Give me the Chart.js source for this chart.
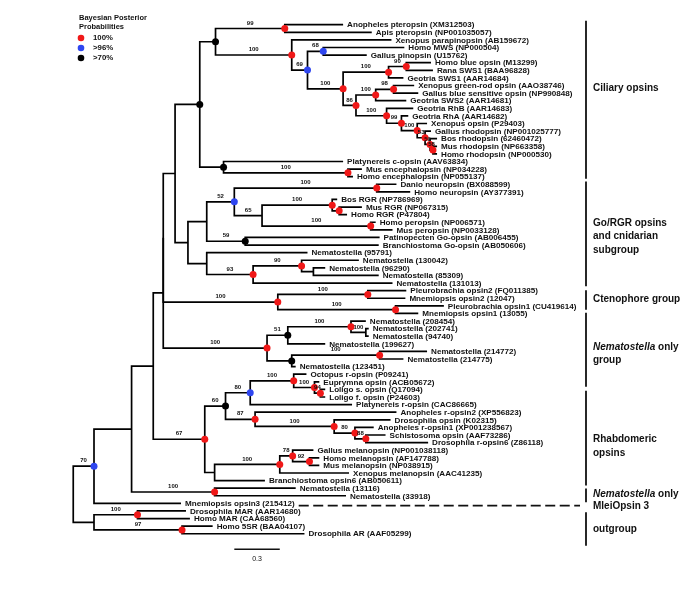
<!DOCTYPE html>
<html><head><meta charset="utf-8">
<script src="https://cdn.jsdelivr.net/npm/chart.js@4.4.1/dist/chart.umd.min.js"></script>
<style>html,body{margin:0;padding:0;background:#fff}</style>
</head><body>
<canvas id="c" width="685" height="599"></canvas>
<script>
// ---- leaves (top to bottom) ----
const leafNames = [
"Anopheles pteropsin (XM312503)","Apis pteropsin (NP001035057)","Xenopus parapinopsin (AB159672)",
"Homo MWS (NP000504)","Gallus pinopsin (U15762)","Homo blue opsin (M13299)","Rana SWS1 (BAA96828)",
"Geotria SWS1 (AAR14684)","Xenopus green-rod opsin (AAO38746)","Gallus blue sensitive opsin (NP990848)",
"Geotria SWS2 (AAR14681)","Geotria RhB (AAR14683)","Geotria RhA (AAR14682)","Xenopus opsin (P29403)",
"Gallus rhodopsin (NP001025777)","Bos rhodopsin (62460472)","Mus rhodopsin (NP663358)","Homo rhodopsin (NP000530)",
"Platynereis c-opsin (AAV63834)","Mus encephalopsin (NP034228)","Homo encephalopsin (NP055137)",
"Danio neuropsin (BX088599)","Homo neuropsin (AY377391)","Bos RGR (NP786969)","Mus RGR (NP067315)",
"Homo RGR (P47804)","Homo peropsin (NP006571)","Mus peropsin (NP0033128)","Patinopecten Go-opsin (AB006455)",
"Branchiostoma Go-opsin (AB050606)","Nematostella (95791)","Nematostella (130042)","Nematostella (96290)",
"Nematostella (85309)","Nematostella (131013)","Pleurobrachia opsin2 (FQ011385)","Mnemiopsis opsin2 (12047)",
"Pleurobrachia opsin1 (CU419614)","Mnemiopsis opsin1 (13055)","Nematostella (208454)","Nematostella (202741)",
"Nematostella (94740)","Nematostella (199627)","Nematostella (214772)","Nematostella (214775)",
"Nematostella (123451)","Octopus r-opsin (P09241)","Euprymna opsin (ACB05672)","Loligo s. opsin (Q17094)",
"Loligo f. opsin (P24603)","Platynereis r-opsin (CAC86665)","Anopheles r-opsin2 (XP556823)",
"Drosophila opsin (K02315)","Anopheles r-opsin1 (XP001238567)","Schistosoma opsin (AAF73286)",
"Drosophila r-opsin6 (Z86118)","Gallus melanopsin (NP001038118)","Homo melanopsin (AF147788)",
"Mus melanopsin (NP038915)","Xenopus melanopsin (AAC41235)","Branchiostoma opsin6 (AB050611)",
"Nematostella (13116)","Nematostella (33918)","Mnemiopsis opsin3 (215412)","Drosophila MAR (AAR14680)",
"Homo MAR (CAA68560)","Homo 5SR (BAA04107)","Drosophila AR (AAF05299)"];
// distance from root (substitutions/site)
const leafDepth = [1.781,1.970,2.100,2.185,1.937,2.361,2.374,2.179,2.250,2.277,
2.198,2.244,2.211,2.335,2.361,2.401,2.401,2.401,1.781,1.905,
1.846,2.133,2.224,1.742,1.905,1.807,1.996,2.107,2.022,2.016,
1.546,1.885,1.663,2.016,2.107,2.198,2.192,2.446,2.277,1.931,
1.950,1.950,1.663,2.335,2.179,1.468,1.539,1.624,1.663,1.663,
1.840,2.133,2.094,1.983,2.061,2.342,1.585,1.624,1.624,1.820,
1.265,1.468,1.800,0.711,0.744,0.770,0.920,1.526];

// ---- internal nodes ----
const nodeIds = ["root","A","OUT","MAR","SSR","B","N13","C","D","D1","F","G","I","PT","J","K","L","M","N","P",
"O","Q","S","R","T","U","V","W","X","Y","Z","H","H1","BL","NEU","R65","RGR","RGR2","PER","BK",
"H2","N93","N90","NS","CT","CT2","CT1","NG","N51","N100","NS2","NB","NR","E","E1","B80","OCT","EUP","LOL",
"R87","R100","R80","R88","EM","MEL","M78","M92"];
const nodeChildren = [["A","OUT"],["B",63],["MAR","SSR"],[64,65],[66,67],["C","N13"],[61,62],["D","E"],["D1","NG"],["F","CT"],
["G","H"],["I","Y"],["PT","J"],[0,1],[2,"K"],["L","M"],[3,4],["N","O"],["P",7],[5,6],
["Q","R"],["S",10],[8,9],[11,"T"],[12,"U"],[13,"V"],[14,"W"],[15,"X"],[16,17],[18,"Z"],[19,20],
["H1","H2"],["BL","BK"],["NEU","R65"],[21,22],["RGR","PER"],[23,"RGR2"],[24,25],[26,27],[28,29],
[30,"N93"],["N90",34],[31,"NS"],[32,33],["CT2","CT1"],[35,36],[37,38],["N51","NB"],["N100",42],[39,"NS2"],[40,41],
["NR",45],[43,44],["E1","EM"],["B80","R87"],["OCT",50],[46,"EUP"],[47,"LOL"],[48,49],
[51,"R100"],[52,"R80"],[53,"R88"],[54,55],["MEL",60],["M78",59],[56,"M92"],[57,58]];
const nodeDepth = [0,0.137,0.137,0.424,0.718,0.385,0.933,0.528,0.594,0.594,
0.672,0.835,0.939,1.396,1.442,1.546,1.650,1.781,2.081,2.198,
1.866,1.996,2.114,2.068,2.166,2.270,2.322,2.355,2.374,0.992,1.813,
0.757,0.881,1.063,2.003,1.246,1.709,1.755,1.963,1.135,
0.881,1.187,1.507,1.585,1.350,1.944,2.127,1.279,1.416,1.833,1.931,
1.442,2.022,0.868,1.005,1.168,1.455,1.592,1.631,
1.200,1.722,1.859,1.931,0.933,1.363,1.448,1.559];
const nodeSupport = ["","70","","100","97","","100","","","",
"","","","99","100","69","68","100","100","90",
"86","100","98","100","99","100","53","59","58","","100",
"","","52","100","65","100","","100","59",
"","93","90","","100","100","100","100","51","100","100",
"","100","67","60","80","100","100","94",
"87","100","80","88","","100","78","92"];
const nodePP = ["","blue","","red","red","","red","","","",
"","black","black","red","red","blue","blue","red","red","red",
"red","red","red","red","red","red","red","red","red","black","red",
"","","blue","red","","red","red","red","black",
"","red","red","","red","red","red","red","black","red","",
"black","red","red","black","blue","red","red","red",
"red","red","red","red","","red","red","red"];

// ---- clade brackets ----
const groupLines = [["Ciliary opsins"],["Go/RGR opsins","and cnidarian","subgroup"],["Ctenophore group"],
["*Nematostella* only","group"],["Rhabdomeric","opsins"],["*Nematostella* only"],["outgroup"]];
const groupFrom = [-0.52,20.65,34.94,37.92,48.18,61.04,64.16];
const groupTo   = [20.26,34.42,37.53,47.66,60.65,62.86,68.57];
const groupLabelRow = [8.4,26.1,36.1,42.4,54.6,61.8,66.4];
const mleiLabel = "MleiOpsin 3", mleiLeaf = 63, mleiRow = 63.3;
const ppLevels = ["red","blue","black"];
const ppLabels = ["100%",">96%",">70%"];
const ppColors = {red:"#f01818", blue:"#2f46f0", black:"#000000"};
const scaleBarLen = 0.3, scaleBarStart = 1.063, scaleBarRow = 69.03;

// ---- tree geometry from the data ----
const idx = {}; nodeIds.forEach((id,k)=>idx[id]=k);
const parentOf = {};
nodeChildren.forEach((ch,k)=>ch.forEach(c=>{ if(typeof c==="string") parentOf[c]=nodeIds[k]; }));
function rowOf(c){ if(typeof c==="number") return c; const ch=nodeChildren[idx[c]]; return (rowOf(ch[0])+rowOf(ch[ch.length-1]))/2; }
function depthOf(c){ return typeof c==="number" ? leafDepth[c] : nodeDepth[idx[c]]; }

const datasets = [];
ppLevels.forEach(lv=>{
  const pts=[]; nodeIds.forEach((id,k)=>{ if(nodePP[k]===lv) pts.push({x:nodeDepth[k], y:rowOf(id)}); });
  datasets.push({data:pts, showLine:false, pointRadius:3.5, pointBorderWidth:0, backgroundColor:ppColors[lv], borderColor:ppColors[lv]});
});
nodeIds.forEach((id,k)=>{
  const ch=nodeChildren[k], a=ch[0], b=ch[ch.length-1], d=nodeDepth[k];
  datasets.push({data:[{x:depthOf(a),y:rowOf(a)},{x:d,y:rowOf(a)},{x:d,y:rowOf(b)},{x:depthOf(b),y:rowOf(b)}],
    showLine:true, pointRadius:0, borderColor:"#000", borderWidth:1.7, borderJoinStyle:"miter", tension:0, fill:false});
});

const FONT='"Liberation Sans", Arial, Helvetica, sans-serif';
function drawRich(ctx, txt, x, yy, size){
  const parts = txt.split("*"); let cx=x;
  parts.forEach((p,i)=>{ if(!p) return; ctx.font=(i%2? "italic bold ":"bold ")+size+"px "+FONT; ctx.fillText(p,cx,yy); cx+=ctx.measureText(p).width; });
}
const treePlugin = {
  id:"tree",
  afterDatasetsDraw(chart){
    const {ctx, scales:{x, y}} = chart;
    ctx.save();
    ctx.fillStyle="#111"; ctx.textBaseline="middle"; ctx.textAlign="left";
    ctx.font="bold 8.1px "+FONT;
    leafNames.forEach((n,i)=>ctx.fillText(n, x.getPixelForValue(leafDepth[i])+4, y.getPixelForValue(i)+0.5));
    // dashed line after Mnemiopsis opsin3
    const mEnd = x.getPixelForValue(leafDepth[mleiLeaf])+4+ctx.measureText(leafNames[mleiLeaf]).width+4;
    const barX = 586;
    ctx.strokeStyle="#111"; ctx.lineWidth=1.7; ctx.setLineDash([10,4.5]);
    ctx.beginPath(); ctx.moveTo(mEnd, y.getPixelForValue(mleiRow)); ctx.lineTo(barX-6, y.getPixelForValue(mleiRow)); ctx.stroke();
    ctx.setLineDash([]);
    // support values
    ctx.font="bold 6px "+FONT; ctx.textAlign="center";
    nodeIds.forEach((id,k)=>{
      const s=nodeSupport[k]; if(!s) return;
      const p=parentOf[id]; const px0=x.getPixelForValue(nodeDepth[idx[p]]), px1=x.getPixelForValue(nodeDepth[k]);
      ctx.fillText(s,(px0+px1)/2, y.getPixelForValue(rowOf(id))-5.5);
    });
    // clade bars
    ctx.lineWidth=1.8; ctx.textAlign="left";
    groupLines.forEach((lines,g)=>{
      ctx.beginPath(); ctx.moveTo(barX, y.getPixelForValue(groupFrom[g])); ctx.lineTo(barX, y.getPixelForValue(groupTo[g])); ctx.stroke();
      const y0=y.getPixelForValue(groupLabelRow[g]);
      lines.forEach((ln,j)=>drawRich(ctx, ln, 593, y0+j*13.5, 10));
    });
    drawRich(ctx, mleiLabel, 593, y.getPixelForValue(mleiRow)+1, 10);
    // scale bar
    const sx0=x.getPixelForValue(scaleBarStart), sx1=x.getPixelForValue(scaleBarStart+scaleBarLen), sy=y.getPixelForValue(scaleBarRow);
    ctx.lineWidth=1.6; ctx.beginPath(); ctx.moveTo(sx0,sy); ctx.lineTo(sx1,sy); ctx.stroke();
    ctx.font="7px "+FONT; ctx.textAlign="center"; ctx.fillText(String(scaleBarLen),(sx0+sx1)/2, sy+9.5);
    // legend
    ctx.textAlign="left"; ctx.font="bold 7.5px "+FONT;
    ctx.fillText("Bayesian Posterior",79,18); ctx.fillText("Probabilities",79,27);
    ctx.font="bold 7.8px "+FONT;
    ppLevels.forEach((lv,i)=>{
      ctx.fillStyle=ppColors[lv]; ctx.beginPath(); ctx.arc(81,38+i*10,3.3,0,Math.PI*2); ctx.fill();
      ctx.fillStyle="#111"; ctx.fillText(ppLabels[i],93,38+i*10);
    });
    ctx.restore();
  }
};

new Chart(document.getElementById("c"), {
  type:"scatter",
  data:{datasets},
  options:{
    responsive:false, animation:false, events:[],
    layout:{padding:0},
    plugins:{legend:{display:false}, tooltip:{enabled:false}},
    scales:{
      x:{type:"linear", min:-0.457, max:4.011, display:false},
      y:{type:"linear", min:-2.727, max:75.06, reverse:true, display:false}
    }
  },
  plugins:[treePlugin]
});
</script>
</body></html>
